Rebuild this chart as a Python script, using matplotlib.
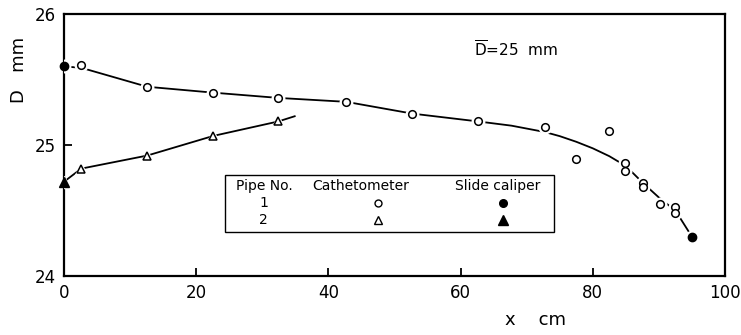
import matplotlib.pyplot as plt
import numpy as np
from matplotlib.patches import Rectangle

# pipe 1 : cathetometer (open circles)
x1 = [2.6, 12.6, 22.6, 32.4, 42.7, 52.7, 62.7, 72.7, 77.5, 82.5, 84.9, 84.9, 87.6, 87.6, 90.1, 92.5, 92.5]
d1 = [25.61, 25.445, 25.40, 25.36, 25.33, 25.24, 25.18, 25.135, 24.89, 25.11, 24.86, 24.80, 24.71, 24.68, 24.55, 24.53, 24.48]
# pipe 1 : slide caliper (filled circles)
x1s = [0.0, 95.0]
d1s = [25.60, 24.30]
# pipe 1 : faired curve
x1c = [0, 2.6, 12.6, 22.6, 32.4, 42.7, 52.7, 62.7, 67.7, 72.7, 75.0, 77.5, 80.0, 82.5, 85.0, 87.6, 90.1, 92.5, 95.0]
d1c = [25.60, 25.59, 25.445, 25.40, 25.36, 25.33, 25.24, 25.18, 25.148, 25.10, 25.068, 25.025, 24.975, 24.915, 24.84, 24.71, 24.595, 24.50, 24.30]

# pipe 2 : cathetometer (open triangles)
x2 = [2.6, 12.6, 22.6, 32.4]
d2 = [24.82, 24.92, 25.07, 25.18]
# pipe 2 : slide caliper (filled triangle)
x2s = [0.0]
d2s = [24.72]
# pipe 2 : line
x2c = [0, 2.6, 12.6, 22.6, 32.4, 34.9]
d2c = [24.72, 24.82, 24.92, 25.07, 25.18, 25.22]

xticks = [0, 20, 40, 60, 80, 100]
yticks = [24, 25, 26]

fig = plt.figure(figsize=(7.41, 3.35), dpi=100)
ax = fig.add_axes([0.0864, 0.176, 0.892, 0.782])

ax.plot(x1c, d1c, "-", color="black", lw=1.3, zorder=2)
ax.plot(x2c, d2c, "-", color="black", lw=1.3, zorder=2)

# white halos so the lines stop short of the markers
for xs, ds, m in [(x1, d1, "o"), (x1s, d1s, "o"), (x2, d2, "^"), (x2s, d2s, "^")]:
    ax.plot(xs, ds, m, ms=9, mfc="white", mec="white", ls="none", zorder=3)

ax.plot(x1, d1, "o", ms=5.5, mfc="white", mec="black", mew=1.1, ls="none", zorder=4)
ax.plot(x1s, d1s, "o", ms=6, mfc="black", mec="black", ls="none", zorder=4, clip_on=False)
ax.plot(x2, d2, "^", ms=5.5, mfc="white", mec="black", mew=1.1, ls="none", zorder=4)
ax.plot(x2s, d2s, "^", ms=6.5, mfc="black", mec="black", ls="none", zorder=4, clip_on=False)

ax.set_xlim(0, 100)
ax.set_ylim(24, 26)
ax.set_xticks(xticks)
ax.set_yticks(yticks)
ax.tick_params(direction="in", length=6, width=1.3, labelsize=12, pad=6)
for s in ax.spines.values():
    s.set_linewidth(1.6)

fig.text(0.026, 0.79, "D   mm", rotation=90, fontsize=13, ha="center", va="center")
fig.text(0.722, 0.045, "x    cm", fontsize=13, ha="center", va="center")

ax.text(62.0, 25.725, r"$\overline{\mathrm{D}}$=25  mm", fontsize=11, ha="left", va="center")

# legend table
ax.add_patch(Rectangle((24.4, 24.34), 49.7, 0.43, fill=False, lw=1.0, ec="black", zorder=5))
ax.text(26.0, 24.69, "Pipe No.", fontsize=10, ha="left", va="center")
ax.text(37.5, 24.69, "Cathetometer", fontsize=10, ha="left", va="center")
ax.text(59.2, 24.69, "Slide caliper", fontsize=10, ha="left", va="center")
ax.text(30.2, 24.555, "1", fontsize=10, ha="center", va="center")
ax.text(30.2, 24.425, "2", fontsize=10, ha="center", va="center")
ax.plot([47.5], [24.555], "o", ms=5, mfc="white", mec="black", mew=1.0, zorder=6)
ax.plot([47.5], [24.425], "^", ms=5.5, mfc="white", mec="black", mew=1.0, zorder=6)
ax.plot([66.4], [24.555], "o", ms=5.5, mfc="black", mec="black", zorder=6)
ax.plot([66.4], [24.425], "^", ms=6.5, mfc="black", mec="black", zorder=6)

fig.savefig("out.png", dpi=100)
